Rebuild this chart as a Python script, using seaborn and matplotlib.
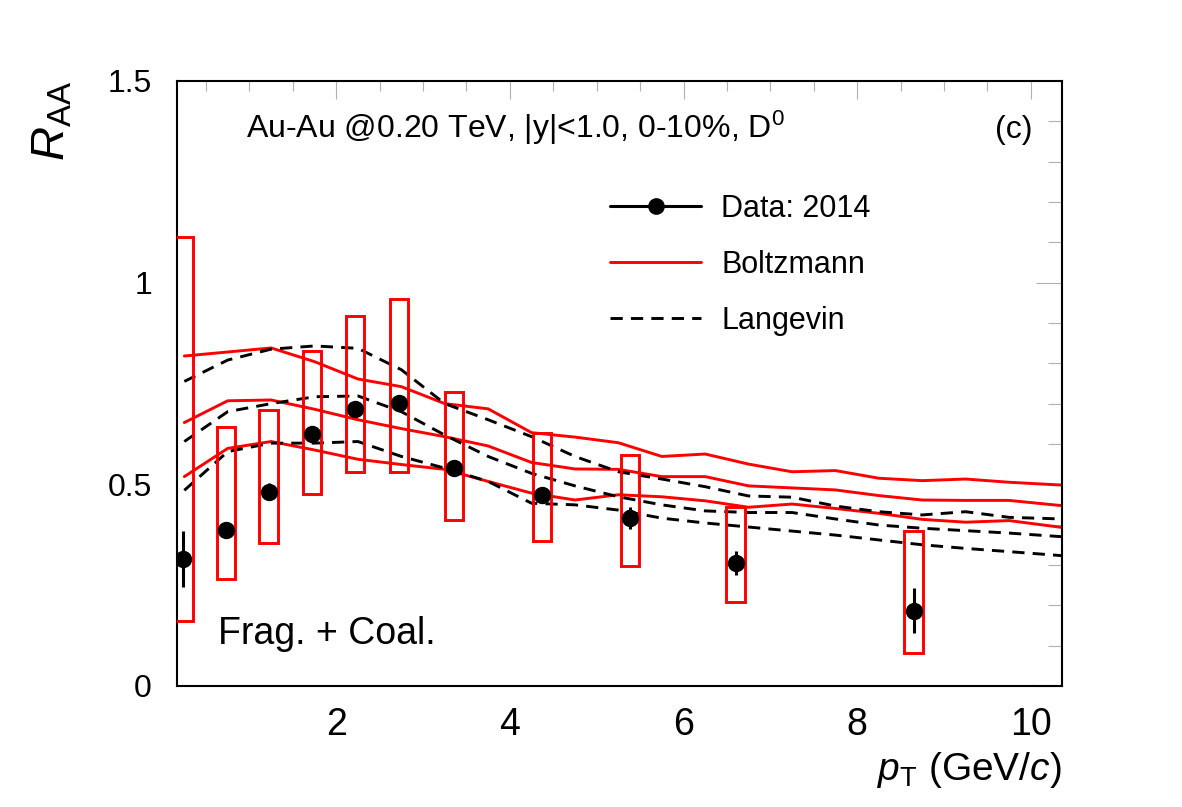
import numpy as np
import pandas as pd
import seaborn as sns
import matplotlib
matplotlib.use('Agg')
import matplotlib.pyplot as plt
from matplotlib.lines import Line2D
from matplotlib.ticker import MultipleLocator

# measured D0 R_AA points (pT, value, stat error) and systematic boxes
data_pt = [0.24, 0.73, 1.22, 1.72, 2.22, 2.72, 3.36, 4.37, 5.38, 6.60, 8.65]
data_raa = [0.314, 0.387, 0.482, 0.624, 0.686, 0.702, 0.540, 0.474, 0.416, 0.304, 0.187]
data_err = [0.069, 0.02, 0.02, 0.02, 0.02, 0.02, 0.02, 0.02, 0.027, 0.03, 0.055]
sys_hi = [1.113, 0.642, 0.684, 0.831, 0.918, 0.960, 0.729, 0.627, 0.573, 0.443, 0.383]
sys_lo = [0.160, 0.265, 0.355, 0.476, 0.530, 0.530, 0.412, 0.360, 0.297, 0.208, 0.082]

# model curves
model_pt = [0.25, 0.75, 1.25, 1.75, 2.25, 2.75, 3.25, 3.75, 4.25, 4.75, 5.25,
            5.75, 6.25, 6.75, 7.25, 7.75, 8.25, 8.75, 9.25, 9.75, 10.36]
boltz_hi = [0.818, 0.828, 0.838, 0.804, 0.761, 0.742, 0.700, 0.687, 0.628, 0.617, 0.603,
            0.569, 0.575, 0.550, 0.531, 0.534, 0.515, 0.509, 0.513, 0.505, 0.498]
boltz_mid = [0.653, 0.707, 0.709, 0.686, 0.660, 0.638, 0.618, 0.595, 0.554, 0.538, 0.537,
             0.519, 0.519, 0.496, 0.491, 0.486, 0.472, 0.461, 0.460, 0.460, 0.447]
boltz_lo = [0.519, 0.589, 0.606, 0.585, 0.562, 0.549, 0.537, 0.507, 0.478, 0.461, 0.474,
            0.469, 0.459, 0.443, 0.451, 0.440, 0.428, 0.413, 0.406, 0.410, 0.393]
lang_hi = [0.755, 0.808, 0.835, 0.843, 0.837, 0.784, 0.700, 0.660, 0.618, 0.569, 0.531,
           0.513, 0.494, 0.471, 0.468, 0.446, 0.432, 0.424, 0.432, 0.418, 0.414]
lang_mid = [0.606, 0.680, 0.700, 0.717, 0.719, 0.680, 0.622, 0.569, 0.527, 0.496, 0.469,
            0.449, 0.434, 0.430, 0.430, 0.414, 0.399, 0.391, 0.385, 0.379, 0.370]
lang_lo = [0.485, 0.581, 0.602, 0.602, 0.606, 0.569, 0.540, 0.507, 0.453, 0.449, 0.436,
           0.416, 0.404, 0.394, 0.384, 0.374, 0.362, 0.350, 0.341, 0.333, 0.323]

sns.set_style('white')
plt.rcParams['font.family'] = ['Liberation Sans', 'DejaVu Sans']
plt.rcParams['mathtext.fontset'] = 'custom'
plt.rcParams['mathtext.rm'] = 'Liberation Sans'
plt.rcParams['mathtext.it'] = 'Liberation Sans:italic'
for key in ('text.color', 'axes.labelcolor', 'xtick.labelcolor', 'ytick.labelcolor'):
    plt.rcParams[key] = 'black'

curves = {
    ('Boltzmann', 'hi'): boltz_hi, ('Boltzmann', 'mid'): boltz_mid, ('Boltzmann', 'lo'): boltz_lo,
    ('Langevin', 'hi'): lang_hi, ('Langevin', 'mid'): lang_mid, ('Langevin', 'lo'): lang_lo,
}
rows = []
for (model, band), vals in curves.items():
    for x, y in zip(model_pt, vals):
        rows.append({'pt': x, 'raa': y, 'model': model, 'band': f'{model}-{band}'})
df = pd.DataFrame(rows)

fig = plt.figure(figsize=(11.82, 8.07), dpi=100)
ax = fig.add_axes([0.1497, 0.150, 0.7488, 0.7497])

sns.lineplot(data=df, x='pt', y='raa', hue='model', style='model', units='band',
             estimator=None, sort=False, legend=False, lw=2.1, ax=ax,
             palette={'Boltzmann': 'red', 'Langevin': 'black'},
             dashes={'Boltzmann': '', 'Langevin': (4.2, 2.8)})

lo = np.array(sys_lo)
hi = np.array(sys_hi)
ax.bar(data_pt, hi - lo, bottom=lo, width=0.21, fill=False,
       edgecolor='red', linewidth=2.1, zorder=3)

ax.errorbar(data_pt, data_raa, yerr=data_err, fmt='o', color='black',
            ms=11.5, elinewidth=2.2, capsize=0, zorder=5)

ax.set_xlim(0.165, 10.36)
ax.set_ylim(0, 1.5)
ax.xaxis.set_major_locator(MultipleLocator(2))
ax.xaxis.set_minor_locator(MultipleLocator(0.5))
ax.yaxis.set_major_locator(MultipleLocator(0.5))
ax.yaxis.set_minor_locator(MultipleLocator(0.1))
ax.set_yticks([0, 0.5, 1, 1.5], ['0', '0.5', '1', '1.5'])
for s in ax.spines.values():
    s.set_color('black')
    s.set_linewidth(1.5)
ax.tick_params(which='both', direction='in', top=True, right=True, color='#b0b0b0', width=0.8)
ax.tick_params(axis='x', which='major', length=13, pad=15, labelsize=27)
ax.tick_params(axis='x', which='minor', length=7)
ax.tick_params(axis='y', which='major', length=19, pad=18, labelsize=23)
ax.tick_params(axis='y', which='minor', length=10)

ax.set_xlabel(r'$p_{\mathrm{T}}$ (GeV/$c$)', fontsize=28, ha='right', va='baseline')
ax.xaxis.set_label_coords(1.0, -0.155)
ax.set_ylabel(r'$R_{\mathrm{AA}}$', fontsize=34, ha='right', va='center')
ax.yaxis.set_label_coords(-0.141, 1.0)

ax.text(0.078, 0.906, r'Au-Au @0.20 TeV, |y|<1.0, 0-10%, D$^{0}$', transform=ax.transAxes,
        fontsize=23, va='baseline', ha='left')
ax.text(0.945, 0.919, '(c)', transform=ax.transAxes, fontsize=23, va='center', ha='center')
ax.text(0.046, 0.069, 'Frag. + Coal.', transform=ax.transAxes, fontsize=27,
        va='baseline', ha='left')

handles = [
    Line2D([], [], color='black', lw=2.2, marker='o', ms=11),
    Line2D([], [], color='red', lw=2.1),
    Line2D([], [], color='black', lw=2.1, ls=(0, (4.2, 2.8))),
]
ax.legend(handles, ['Data: 2014', 'Boltzmann', 'Langevin'], loc='center left',
          bbox_to_anchor=(0.489, 0.696), frameon=False, fontsize=22,
          handlelength=3.0, handletextpad=0.65, labelspacing=0.86,
          borderpad=0, borderaxespad=0)

plt.savefig('out.png', dpi=100)
